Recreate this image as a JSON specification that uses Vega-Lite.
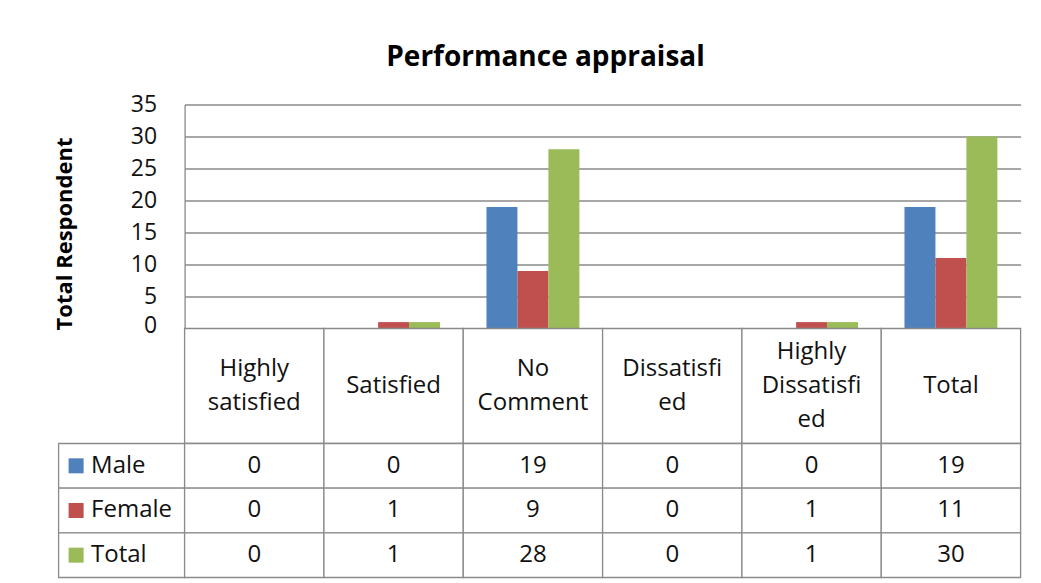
{
  "$schema": "https://vega.github.io/schema/vega-lite/v6.json",
  "background": "white",
  "padding": {"left": 53.6, "top": 43.5, "right": 0, "bottom": 0},
  "datasets": {
    "values": [
      {"cat": "Highly satisfied", "series": "Male", "value": 0},
      {"cat": "Highly satisfied", "series": "Female", "value": 0},
      {"cat": "Highly satisfied", "series": "Total", "value": 0},
      {"cat": "Satisfied", "series": "Male", "value": 0},
      {"cat": "Satisfied", "series": "Female", "value": 1},
      {"cat": "Satisfied", "series": "Total", "value": 1},
      {"cat": "No Comment", "series": "Male", "value": 19},
      {"cat": "No Comment", "series": "Female", "value": 9},
      {"cat": "No Comment", "series": "Total", "value": 28},
      {"cat": "Dissatisfied", "series": "Male", "value": 0},
      {"cat": "Dissatisfied", "series": "Female", "value": 0},
      {"cat": "Dissatisfied", "series": "Total", "value": 0},
      {"cat": "Highly Dissatisfied", "series": "Male", "value": 0},
      {"cat": "Highly Dissatisfied", "series": "Female", "value": 1},
      {"cat": "Highly Dissatisfied", "series": "Total", "value": 1},
      {"cat": "Total", "series": "Male", "value": 19},
      {"cat": "Total", "series": "Female", "value": 11},
      {"cat": "Total", "series": "Total", "value": 30}
    ],
    "cats": [
      {"cat": "Highly satisfied", "label": "Highly\nsatisfied"},
      {"cat": "Satisfied", "label": "Satisfied"},
      {"cat": "No Comment", "label": "No\nComment"},
      {"cat": "Dissatisfied", "label": "Dissatisfi\ned"},
      {"cat": "Highly Dissatisfied", "label": "Highly\nDissatisfi\ned"},
      {"cat": "Total", "label": "Total"}
    ],
    "series": [
      {"series": "Male"},
      {"series": "Female"},
      {"series": "Total"}
    ]
  },
  "title": {
    "text": "Performance appraisal",
    "font": "Open Sans",
    "fontSize": 28,
    "fontWeight": "bold",
    "color": "black",
    "anchor": "middle",
    "offset": 22,
    "dx": 8
  },
  "config": {
    "view": {"stroke": null},
    "font": "Open Sans",
    "text": {"font": "Open Sans", "color": "black"}
  },
  "columns": 2,
  "spacing": 0,
  "bounds": "flush",
  "concat": [
    {
      "width": 126,
      "height": 224,
      "data": {"values": [{"s": 1}]},
      "mark": {"type": "point", "opacity": 0},
      "encoding": {}
    },
    {
      "width": 836,
      "height": 224,
      "data": {"name": "values"},
      "mark": {"type": "bar"},
      "encoding": {
        "x": {
          "field": "cat",
          "type": "nominal",
          "scale": {
            "domain": ["Highly satisfied", "Satisfied", "No Comment", "Dissatisfied", "Highly Dissatisfied", "Total"],
            "paddingInner": 0.3333,
            "paddingOuter": 0.1667
          },
          "axis": null
        },
        "xOffset": {
          "field": "series",
          "type": "nominal",
          "scale": {"domain": ["Male", "Female", "Total"], "paddingInner": 0, "paddingOuter": 0}
        },
        "y": {
          "field": "value",
          "type": "quantitative",
          "scale": {"domain": [0, 35], "nice": false},
          "axis": {
            "values": [0, 5, 10, 15, 20, 25, 30, 35],
            "labelOverlap": false,
            "title": "Total Respondent",
            "grid": true,
            "gridColor": "#8a8a8a",
            "gridWidth": 1.3,
            "domain": true,
            "domainColor": "#8a8a8a",
            "domainWidth": 1.3,
            "ticks": false,
            "labelFont": "Open Sans",
            "labelFontSize": 23,
            "labelColor": "#111111",
            "labelPadding": 28,
            "labelOffset": {"condition": {"test": "datum.value === 0", "value": -3}, "value": 0},
            "titleFont": "Open Sans",
            "titleFontSize": 22,
            "titleFontWeight": "bold",
            "titleColor": "black",
            "titlePadding": 53.5,
            "titleY": 129
          }
        },
        "color": {
          "field": "series",
          "type": "nominal",
          "scale": {"domain": ["Male", "Female", "Total"], "range": ["#4F81BD", "#C0504D", "#9BBB59"]},
          "legend": null
        }
      }
    },
    {
      "width": 126,
      "height": 115,
      "data": {"values": [{"s": 1}]},
      "mark": {"type": "point", "opacity": 0},
      "encoding": {}
    },
    {
      "width": 836,
      "height": 115,
      "data": {"name": "cats"},
      "encoding": {
        "x": {
          "field": "cat",
          "type": "nominal",
          "scale": {
            "domain": ["Highly satisfied", "Satisfied", "No Comment", "Dissatisfied", "Highly Dissatisfied", "Total"],
            "paddingInner": 0,
            "paddingOuter": 0
          },
          "axis": null
        }
      },
      "layer": [
        {"mark": {"type": "rect", "fill": "white", "stroke": "#8a8a8a", "strokeWidth": 1.3}},
        {
          "transform": [{"filter": "length(split(datum.label, '\\n')) == 1"}],
          "mark": {"type": "text", "fontSize": 24, "lineBreak": "\n", "lineHeight": 34, "baseline": "middle", "color": "#111111"},
          "encoding": {"text": {"field": "label", "type": "nominal"}}
        },
        {
          "transform": [{"filter": "length(split(datum.label, '\\n')) == 2"}],
          "mark": {"type": "text", "fontSize": 24, "lineBreak": "\n", "lineHeight": 34, "baseline": "middle", "dy": -17, "color": "#111111"},
          "encoding": {"text": {"field": "label", "type": "nominal"}}
        },
        {
          "transform": [{"filter": "length(split(datum.label, '\\n')) == 3"}],
          "mark": {"type": "text", "fontSize": 24, "lineBreak": "\n", "lineHeight": 34, "baseline": "middle", "dy": -34, "color": "#111111"},
          "encoding": {"text": {"field": "label", "type": "nominal"}}
        }
      ]
    },
    {
      "width": 126,
      "height": 134,
      "data": {"name": "series"},
      "encoding": {
        "y": {
          "field": "series",
          "type": "nominal",
          "scale": {"domain": ["Male", "Female", "Total"], "paddingInner": 0, "paddingOuter": 0},
          "axis": null
        }
      },
      "layer": [
        {"mark": {"type": "rect", "fill": "white", "stroke": "#8a8a8a", "strokeWidth": 1.3}},
        {
          "mark": {"type": "point", "shape": "square", "filled": true, "size": 225, "opacity": 1, "xOffset": -45.5},
          "encoding": {
            "color": {
              "field": "series",
              "type": "nominal",
              "scale": {"domain": ["Male", "Female", "Total"], "range": ["#4F81BD", "#C0504D", "#9BBB59"]},
              "legend": null
            }
          }
        },
        {
          "mark": {"type": "text", "align": "left", "dx": -30.5, "fontSize": 24, "baseline": "middle", "color": "#111111"},
          "encoding": {"text": {"field": "series", "type": "nominal"}}
        }
      ]
    },
    {
      "width": 836,
      "height": 134,
      "data": {"name": "values"},
      "encoding": {
        "x": {
          "field": "cat",
          "type": "nominal",
          "scale": {
            "domain": ["Highly satisfied", "Satisfied", "No Comment", "Dissatisfied", "Highly Dissatisfied", "Total"],
            "paddingInner": 0,
            "paddingOuter": 0
          },
          "axis": null
        },
        "y": {
          "field": "series",
          "type": "nominal",
          "scale": {"domain": ["Male", "Female", "Total"], "paddingInner": 0, "paddingOuter": 0},
          "axis": null
        }
      },
      "layer": [
        {"mark": {"type": "rect", "fill": "white", "stroke": "#8a8a8a", "strokeWidth": 1.3}},
        {
          "mark": {"type": "text", "fontSize": 24, "baseline": "middle", "color": "#111111"},
          "encoding": {"text": {"field": "value", "type": "quantitative"}}
        }
      ]
    }
  ]
}
